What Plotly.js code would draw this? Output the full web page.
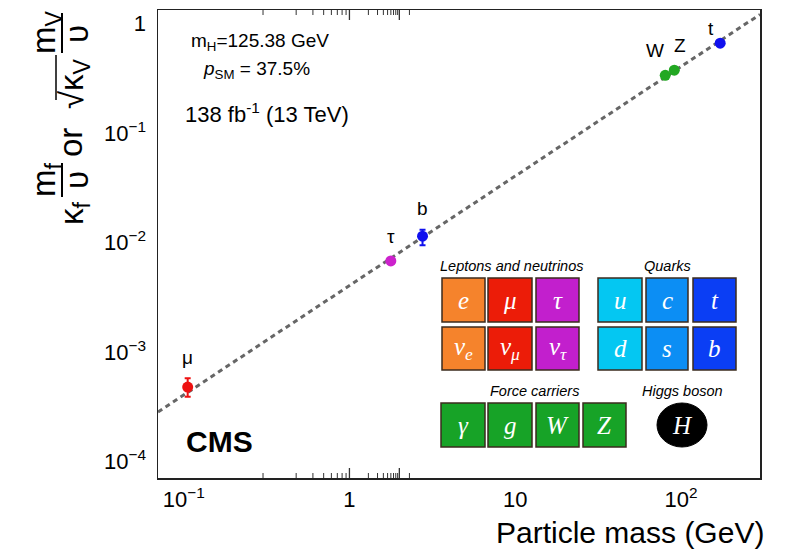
<!DOCTYPE html>
<html>
<head>
<meta charset="utf-8">
<script src="https://cdn.plot.ly/plotly-3.0.1.min.js"></script>
<style>html,body{margin:0;padding:0;background:#fff;}#chart{width:786px;height:553px;}</style>
</head>
<body>
<div id="chart"></div>
<script>
// ---- data ----
const particles = ['μ', 'τ', 'b', 'W', 'Z', 't'];
const massGeV   = [0.1057, 1.777, 2.76, 80.4, 91.19, 172.5];
const coupling  = [4.8e-4, 6.82e-3, 0.01146, 0.338, 0.377, 0.665];
const errPlus   = [0.97e-4, 0.35e-3, 0.0017, 0.008, 0.009, 0.03];
const errMinus  = [0.88e-4, 0.35e-3, 0.0020, 0.008, 0.009, 0.03];
const pointColors = ['#ee1111', '#cc22cc', '#1010ee', '#22a822', '#22a822', '#1010ee'];
const fitX = [0.07, 300];
const fitY = [2.84e-4, 1.218];
const xTickVals = [0.1, 1, 10, 100];
const xTickText = ['10<sup>−1</sup>', '1', '10', '10<sup>2</sup>'];
const yTickVals = [1e-4, 1e-3, 1e-2, 1e-1, 1];
const yTickText = ['10<sup>−4</sup>', '10<sup>−3</sup>', '10<sup>−2</sup>', '10<sup>−1</sup>', '1'];

// label offsets (pixels) for particle names
const labelDx = [0, 0, 0, -10, 6, -9];
const labelDy = [30, 24, 28, 25, 25, 15];

const xRange = [-1.155, 2.477], yRange = [-4.15, 0.126];

// minor tick positions: 2..9 within each decade (log10 units), kept inside the range
function minorTicks(decades, rng) {
  const out = [];
  decades.forEach(d => { for (let k = 2; k <= 9; k++) {
    const v = d + Math.log10(k);
    if (v > rng[0] && v < rng[1]) out.push(v);
  }});
  return out;
}

// ---- geometry helpers (plot area in px) ----
const L = 158, R = 760, T = 10, B = 478;
const px2x = px => (px - L) / (R - L);
const px2y = py => (B - py) / (B - T);

const FONT = 'Liberation Sans, Arial, sans-serif';
const SERIF = 'Liberation Serif, Times New Roman, serif';

const traces = [];
traces.push({
  x: fitX, y: fitY, type: 'scatter', mode: 'lines',
  line: {color: '#666', width: 3, dash: '5px,4px'},
  hoverinfo: 'skip', showlegend: false
});
particles.forEach((p, i) => {
  traces.push({
    x: [massGeV[i]], y: [coupling[i]], type: 'scatter', mode: 'markers', name: p,
    marker: {color: pointColors[i], size: 11},
    error_y: {type: 'data', symmetric: false, array: [errPlus[i]], arrayminus: [errMinus[i]],
              color: pointColors[i], thickness: 2, width: 3},
    showlegend: false
  });
});

const annotations = [];
particles.forEach((p, i) => {
  annotations.push({
    x: Math.log10(massGeV[i]), y: Math.log10(coupling[i]), xref: 'x', yref: 'y',
    xanchor: 'center', yanchor: 'middle',
    text: p, showarrow: false, xshift: labelDx[i], yshift: labelDy[i],
    font: {family: FONT, size: 19, color: '#000'}
  });
});

function ann(text, px, py, size, opts) {
  return Object.assign({
    text: text, x: px2x(px), y: px2y(py), xref: 'paper', yref: 'paper',
    xanchor: 'center', yanchor: 'middle',
    showarrow: false, font: {family: FONT, size: size, color: '#000'}
  }, opts || {});
}

// info texts
annotations.push(ann('m<sub>H</sub>=125.38 GeV', 189, 42, 19, {xanchor: 'left'}));
annotations.push(ann('<i>p</i><sub>SM</sub> = 37.5%', 201, 70, 19, {xanchor: 'left'}));
annotations.push(ann('138 fb<sup>-1</sup> (13 TeV)', 183, 113, 22, {xanchor: 'left'}));
annotations.push(ann('<b>CMS</b>', 219, 441, 30));
annotations.push(ann('Particle mass (GeV)', 766, 532, 30, {xanchor: 'right'}));

// y-axis title pieces (rotated)
const ya = {textangle: -90};
annotations.push(ann('κ<sub>f</sub>', 74, 213, 33, ya));
annotations.push(ann('m<sub>f</sub>', 46, 180, 33, ya));
annotations.push(ann('υ', 76, 180, 33, ya));
annotations.push(ann('or', 70, 142, 33, ya));
annotations.push(ann('√κ<sub>V</sub>', 74, 84, 33, ya));
annotations.push(ann('m<sub>V</sub>', 46, 32, 33, ya));
annotations.push(ann('υ', 76, 34, 33, ya));

const shapes = [];
function line(x0, y0, x1, y1, w) {
  shapes.push({type: 'line', xref: 'paper', yref: 'paper',
    x0: px2x(x0), y0: px2y(y0), x1: px2x(x1), y1: px2y(y1),
    line: {color: '#000', width: w || 2}});
}
line(62, 163, 62, 197);
line(62, 13, 62, 53);
line(56, 55, 56, 100, 1.5);

// axis tick marks on all four sides (inside), placed through the axis scales
function xTick(v, len, w) {
  [[0, len], [0, -len]].forEach((d, j) => shapes.push({type: 'line', xref: 'x', yref: 'paper',
    ysizemode: 'pixel', yanchor: j === 0 ? 0 : 1, x0: v, x1: v, y0: d[0], y1: d[1],
    line: {color: '#333', width: w}}));
}
function yTick(v, len, w) {
  [[0, len], [0, -len]].forEach((d, j) => shapes.push({type: 'line', xref: 'paper', yref: 'y',
    xsizemode: 'pixel', xanchor: j === 0 ? 0 : 1, y0: v, y1: v, x0: d[0], x1: d[1],
    line: {color: '#333', width: w}}));
}
xTickVals.forEach(v => xTick(Math.log10(v), 10, 1.3));
yTickVals.forEach(v => yTick(Math.log10(v), 10, 1.3));
minorTicks([-2, -1, 0, 1, 2], xRange).forEach(v => xTick(v, 5, 1));
minorTicks([-5, -4, -3, -2, -1, 0], yRange).forEach(v => yTick(v, 5, 1));

// particle panel
const border = '#3b2b1e';
function box(x0, x1, y0, y1, color, label) {
  shapes.push({type: 'rect', xref: 'paper', yref: 'paper',
    x0: px2x(x0), x1: px2x(x1), y0: px2y(y1), y1: px2y(y0),
    fillcolor: color, line: {color: border, width: 1.5}});
  annotations.push({text: label, x: px2x((x0 + x1) / 2), y: px2y((y0 + y1) / 2),
    xref: 'paper', yref: 'paper', xanchor: 'center', yanchor: 'middle', showarrow: false,
    font: {family: SERIF, size: 25, color: '#fff', style: 'italic'}});
}
const lepCols = [[442, 485], [488, 532], [536, 579]];
const qCols = [[598, 642], [646, 688], [693, 736]];
const fCols = [[441, 485], [488, 532], [536, 579], [583, 626]];
const row1 = [278, 322], row2 = [327, 370], row3 = [403, 447];
const lepColors = ['#f5832c', '#ec1c08', '#c21fcd'];
const qColors = ['#04c7f2', '#0c8ef4', '#0b3ef4'];
const lep1 = ['e', 'μ', 'τ'], lep2 = ['ν<sub>e</sub>', 'ν<sub>μ</sub>', 'ν<sub>τ</sub>'];
const q1 = ['u', 'c', 't'], q2 = ['d', 's', 'b'];
const f1 = ['γ', 'g', 'W', 'Z'];
lepCols.forEach((c, i) => { box(c[0], c[1], row1[0], row1[1], lepColors[i], lep1[i]);
                            box(c[0], c[1], row2[0], row2[1], lepColors[i], lep2[i]); });
qCols.forEach((c, i) => { box(c[0], c[1], row1[0], row1[1], qColors[i], q1[i]);
                          box(c[0], c[1], row2[0], row2[1], qColors[i], q2[i]); });
fCols.forEach((c, i) => box(c[0], c[1], row3[0], row3[1], '#17a327', f1[i]));
shapes.push({type: 'circle', xref: 'paper', yref: 'paper',
  x0: px2x(657), x1: px2x(707), y0: px2y(447), y1: px2y(403),
  fillcolor: '#000', line: {color: '#000', width: 1}});
annotations.push({text: 'H', x: px2x(682), y: px2y(425), xref: 'paper', yref: 'paper',
  xanchor: 'center', yanchor: 'middle', showarrow: false,
  font: {family: SERIF, size: 25, color: '#fff', style: 'italic'}});
const hdr = {font: {family: FONT, size: 14.5, color: '#000', style: 'italic'}};
annotations.push(ann('Leptons and neutrinos', 512, 266, 14.5, hdr));
annotations.push(ann('Quarks', 667, 266, 14.5, hdr));
annotations.push(ann('Force carriers', 534, 391, 14.5, hdr));
annotations.push(ann('Higgs boson', 682, 391, 14.5, hdr));

const axisCommon = {
  type: 'log', showline: true, linecolor: '#222', linewidth: 1.5, mirror: true,
  ticks: '', showgrid: false, zeroline: false, tickmode: 'array',
  tickfont: {family: FONT, size: 22, color: '#000'}
};

const layout = {
  width: 786, height: 553,
  margin: {l: L, r: 786 - R, t: T, b: 553 - B},
  paper_bgcolor: '#fff', plot_bgcolor: '#fff',
  showlegend: false,
  xaxis: Object.assign({}, axisCommon, {range: xRange, tickvals: xTickVals, ticktext: xTickText, ticklabelstandoff: 1}),
  yaxis: Object.assign({}, axisCommon, {range: yRange, tickvals: yTickVals, ticktext: yTickText, ticklabelstandoff: 6}),
  annotations: annotations,
  shapes: shapes,
  font: {family: FONT}
};

Plotly.newPlot('chart', traces, layout, {staticPlot: true});
</script>
</body>
</html>
